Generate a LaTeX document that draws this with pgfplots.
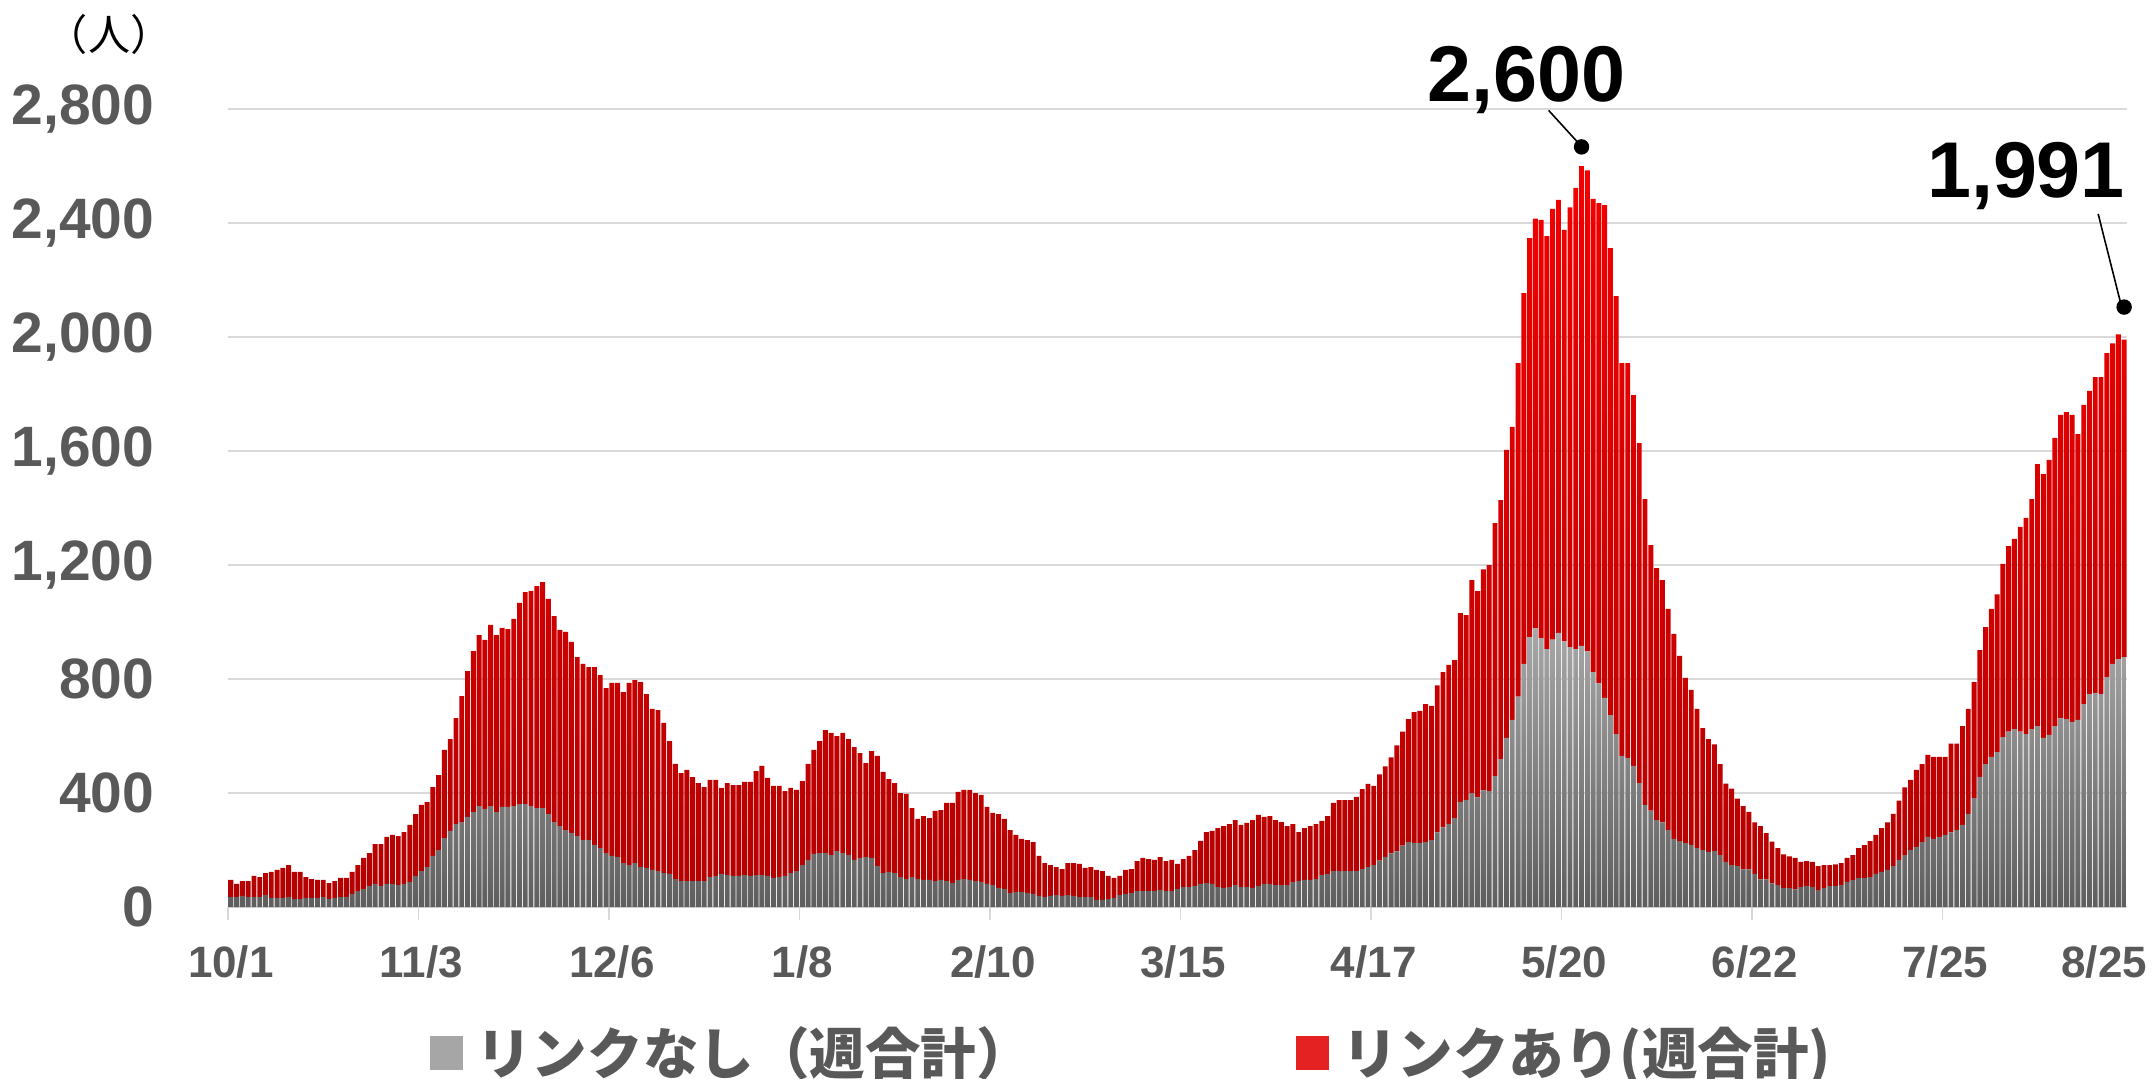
\documentclass[border=0pt]{standalone}
\usepackage{pgfplots}
\pgfplotsset{compat=1.18}
\usepackage{fontspec}
\setmainfont{Liberation Sans}
\newfontfamily\cjk{Noto Sans CJK JP}
\definecolor{txtgray}{HTML}{595959}
\definecolor{gridgray}{HTML}{D9D9D9}
\definecolor{gtop}{HTML}{A8A8A8}
\definecolor{gbot}{HTML}{5E5E5E}
\definecolor{rtop}{HTML}{F40000}
\definecolor{rbot}{HTML}{B40000}
\definecolor{legred}{HTML}{E52222}
\definecolor{leggray}{HTML}{A6A6A6}
\begin{document}
\begin{tikzpicture}
\useasboundingbox (-22.8mm,-17.2mm) rectangle (192.7mm,90.7mm);
\begin{axis}[
  at={(0,0)}, anchor=south west,
  scale only axis, width=189.9mm, height=79.8mm,
  xmin=-0.5, xmax=328.5, ymin=0, ymax=2800, enlargelimits=false,
  ybar stacked, bar width=0.85,
  axis line style={draw=none},
  xtick pos=lower, ytick pos=left,
  ytick={0,400,800,1200,1600,2000,2400,2800},
  yticklabels={0,400,800,{1,200},{1,600},{2,000},{2,400},{2,800}},
  ymajorgrids, grid style={gridgray, line width=0.45pt},
  major tick length=0pt,
  xtick={0,33,66,99,132,165,198,231,264,297},
  xticklabels={10/1,11/3,12/6,1/8,2/10,3/15,4/17,5/20,6/22,7/25},
  extra x ticks={328}, extra x tick labels={8/25},
  extra x tick style={xticklabel style={xshift=-2mm}},
  minor xtick={-0.5,32.5,65.5,98.5,131.5,164.5,197.5,230.5,263.5,296.5},
  minor tick length=1.3mm, tick align=outside,
  minor tick style={gridgray, line width=0.45pt},
  xticklabel style={font=\fontsize{12.5}{14}\selectfont\bfseries, text=txtgray, anchor=base, yshift=-7mm, inner sep=0pt},
  yticklabel style={font=\fontsize{16.2}{19}\selectfont\bfseries, text=txtgray, anchor=east, xshift=-7.3mm, inner sep=0pt},
  clip=false,
  legend columns=2,
  legend style={at={(rel axis cs:0.1064,-0.183)}, anchor=west, draw=none, fill=none,
    inner sep=0pt, outer sep=0pt,
    font=\cjk\bfseries\fontsize{15.8}{18}\selectfont, text=txtgray,
    nodes={inner sep=0pt},
    /tikz/every odd column/.append style={column sep=1.3mm},
    /tikz/every even column/.append style={column sep=26.4mm}},
]
\addplot[forget plot, draw=none, top color=gtop, bottom color=gbot] coordinates {
(0,35)(1,35)(2,39)(3,35)(4,35)(5,35)(6,42)(7,32)(8,32)(9,32)(10,35)(11,28)(12,28)(13,32)(14,32)(15,32)(16,35)(17,28)(18,32)(19,35)
(20,35)(21,46)(22,56)(23,63)(24,74)(25,81)(26,74)(27,81)(28,81)(29,77)(30,81)(31,88)(32,109)(33,126)(34,140)(35,179)(36,200)(37,242)(38,267)(39,291)
(40,298)(41,316)(42,333)(43,354)(44,344)(45,354)(46,333)(47,351)(48,351)(49,354)(50,361)(51,361)(52,354)(53,347)(54,347)(55,326)(56,298)(57,284)(58,270)(59,260)
(60,249)(61,235)(62,235)(63,218)(64,207)(65,189)(66,179)(67,175)(68,154)(69,147)(70,154)(71,140)(72,137)(73,130)(74,126)(75,119)(76,116)(77,98)(78,91)(79,91)
(80,91)(81,91)(82,91)(83,105)(84,109)(85,116)(86,112)(87,109)(88,109)(89,112)(90,109)(91,112)(92,112)(93,109)(94,102)(95,105)(96,109)(97,119)(98,126)(99,147)
(100,165)(101,186)(102,189)(103,189)(104,182)(105,196)(106,189)(107,182)(108,165)(109,172)(110,175)(111,172)(112,144)(113,119)(114,123)(115,119)(116,105)(117,98)(118,105)(119,98)
(120,95)(121,95)(122,91)(123,95)(124,91)(125,84)(126,95)(127,98)(128,95)(129,91)(130,88)(131,81)(132,77)(133,67)(134,63)(135,49)(136,53)(137,53)(138,49)(139,46)
(140,39)(141,35)(142,39)(143,42)(144,39)(145,42)(146,39)(147,35)(148,35)(149,35)(150,25)(151,25)(152,28)(153,32)(154,42)(155,46)(156,49)(157,56)(158,56)(159,56)
(160,56)(161,60)(162,56)(163,56)(164,63)(165,70)(166,70)(167,74)(168,81)(169,84)(170,81)(171,70)(172,67)(173,70)(174,77)(175,70)(176,70)(177,67)(178,74)(179,81)
(180,81)(181,77)(182,77)(183,77)(184,88)(185,91)(186,95)(187,95)(188,98)(189,112)(190,116)(191,126)(192,126)(193,126)(194,126)(195,126)(196,133)(197,140)(198,147)(199,163)
(200,176)(201,188)(202,195)(203,215)(204,228)(205,224)(206,224)(207,228)(208,235)(209,262)(210,279)(211,292)(212,312)(213,369)(214,376)(215,400)(216,385)(217,409)(218,407)(219,459)
(220,519)(221,593)(222,657)(223,738)(224,853)(225,947)(226,978)(227,943)(228,905)(229,938)(230,962)(231,932)(232,912)(233,905)(234,916)(235,897)(236,824)(237,785)(238,734)(239,673)
(240,607)(241,530)(242,523)(243,495)(244,435)(245,358)(246,338)(247,305)(248,297)(249,270)(250,239)(251,231)(252,224)(253,218)(254,207)(255,200)(256,193)(257,196)(258,182)(259,158)
(260,147)(261,143)(262,132)(263,132)(264,116)(265,97)(266,97)(267,83)(268,77)(269,66)(270,66)(271,62)(272,70)(273,73)(274,70)(275,59)(276,66)(277,73)(278,73)(279,77)
(280,88)(281,94)(282,101)(283,101)(284,105)(285,116)(286,123)(287,130)(288,143)(289,165)(290,182)(291,200)(292,211)(293,228)(294,246)(295,239)(296,246)(297,253)(298,262)(299,270)
(300,288)(301,327)(302,382)(303,457)(304,501)(305,527)(306,543)(307,596)(308,615)(309,624)(310,615)(311,607)(312,624)(313,635)(314,593)(315,604)(316,635)(317,662)(318,659)(319,650)
(320,657)(321,712)(322,747)(323,751)(324,747)(325,807)(326,853)(327,870)(328,877)
};
\addplot[forget plot, draw=none, top color=rtop, bottom color=rbot] coordinates {
(0,60)(1,46)(2,52)(3,56)(4,74)(5,70)(6,77)(7,91)(8,98)(9,105)(10,112)(11,95)(12,95)(13,73)(14,66)(15,63)(16,60)(17,56)(18,59)(19,67)
(20,67)(21,77)(22,91)(23,109)(24,115)(25,140)(26,147)(27,165)(28,172)(29,172)(30,182)(31,200)(32,217)(33,232)(34,228)(35,242)(36,263)(37,309)(38,322)(39,372)
(40,442)(41,512)(42,565)(43,600)(44,593)(45,636)(46,621)(47,628)(48,624)(49,657)(50,706)(51,744)(52,755)(53,779)(54,793)(55,755)(56,723)(57,688)(58,695)(59,670)
(60,628)(61,618)(62,607)(63,624)(64,607)(65,579)(66,607)(67,611)(68,600)(69,639)(70,642)(71,649)(72,610)(73,565)(74,565)(75,527)(76,466)(77,404)(78,379)(79,390)
(80,365)(81,344)(82,330)(83,341)(84,337)(85,302)(86,323)(87,319)(88,319)(89,327)(90,330)(91,365)(92,383)(93,344)(94,323)(95,320)(96,298)(97,299)(98,285)(99,295)
(100,337)(101,365)(102,393)(103,432)(104,429)(105,404)(106,422)(107,407)(108,396)(109,368)(110,330)(111,375)(112,386)(113,355)(114,326)(115,316)(116,295)(117,299)(118,242)(119,211)
(120,224)(121,217)(122,246)(123,245)(124,274)(125,281)(126,309)(127,313)(128,316)(129,309)(130,305)(131,270)(132,253)(133,259)(134,246)(135,221)(136,200)(137,186)(138,186)(139,182)
(140,140)(141,119)(142,108)(143,98)(144,94)(145,112)(146,115)(147,116)(148,102)(149,105)(150,105)(151,101)(152,81)(153,70)(154,67)(155,84)(156,84)(157,105)(158,116)(159,112)
(160,109)(161,115)(162,105)(163,109)(164,88)(165,98)(166,109)(167,126)(168,151)(169,179)(170,186)(171,207)(172,217)(173,221)(174,228)(175,218)(176,225)(177,238)(178,249)(179,235)
(180,238)(181,228)(182,221)(183,207)(184,203)(185,172)(186,182)(187,189)(188,193)(189,190)(190,203)(191,239)(192,249)(193,249)(194,249)(195,260)(196,281)(197,292)(198,278)(199,302)
(200,317)(201,337)(202,372)(203,400)(204,431)(205,460)(206,464)(207,484)(208,471)(209,516)(210,545)(211,558)(212,554)(213,662)(214,648)(215,747)(216,723)(217,776)(218,793)(219,888)
(220,909)(221,1011)(222,1028)(223,1170)(224,1301)(225,1400)(226,1437)(227,1468)(228,1449)(229,1512)(230,1519)(231,1444)(232,1543)(233,1618)(234,1684)(235,1688)(236,1661)(237,1685)(238,1729)(239,1639)
(240,1536)(241,1378)(242,1385)(243,1301)(244,1193)(245,1073)(246,932)(247,884)(248,850)(249,776)(250,719)(251,650)(252,580)(253,544)(254,488)(255,428)(256,396)(257,375)(258,319)(259,275)
(260,268)(261,237)(262,222)(263,202)(264,181)(265,187)(266,162)(267,146)(268,130)(269,119)(270,112)(271,110)(272,88)(273,88)(274,88)(275,84)(276,81)(277,74)(278,77)(279,77)
(280,84)(281,88)(282,106)(283,116)(284,126)(285,137)(286,154)(287,167)(288,184)(289,208)(290,238)(291,246)(292,270)(293,273)(294,288)(295,288)(296,281)(297,274)(298,311)(299,303)
(300,347)(301,368)(302,407)(303,444)(304,481)(305,519)(306,554)(307,608)(308,651)(309,668)(310,719)(311,758)(312,807)(313,919)(314,926)(315,965)(316,1011)(317,1065)(318,1077)(319,1077)
(320,1002)(321,1050)(322,1064)(323,1108)(324,1112)(325,1136)(326,1125)(327,1139)(328,1114)
};
\addlegendimage{legend image code/.code={\fill[leggray] (0mm,-1.6mm) rectangle (3.2mm,1.6mm);}}
\addlegendentry{リンクなし（週合計）}
\addlegendimage{legend image code/.code={\fill[legred] (0mm,-1.6mm) rectangle (3.2mm,1.6mm);}}
\addlegendentry{リンクあり(週合計)}
\end{axis}
\begin{axis}[
  at={(0,0)}, anchor=south west,
  scale only axis, width=189.9mm, height=79.8mm,
  xmin=-0.5, xmax=328.5, ymin=0, ymax=2800, enlargelimits=false,
  hide axis, clip=false,
]
\addplot[black, line width=0.45pt] coordinates {(228.3,2795) (233.3,2684)};
\addplot[black, line width=0.45pt] coordinates {(323.5,2432) (327.4,2119)};
\addplot[only marks, mark=*, mark size=0.7mm, black] coordinates {(234,2667) (328,2105)};
\node[font=\fontsize{22.5}{26}\selectfont\bfseries, anchor=base, inner sep=0pt] at (axis cs:224.4,2825) {2,600};
\node[font=\fontsize{22.5}{26}\selectfont\bfseries, anchor=base, inner sep=0pt] at (axis cs:311,2488) {1,991};
\node[font=\cjk\fontsize{12}{14}\selectfont, anchor=center, inner sep=0pt] at (axis cs:-21.1,3060) {（人）};
\end{axis}
\end{tikzpicture}
\end{document}
